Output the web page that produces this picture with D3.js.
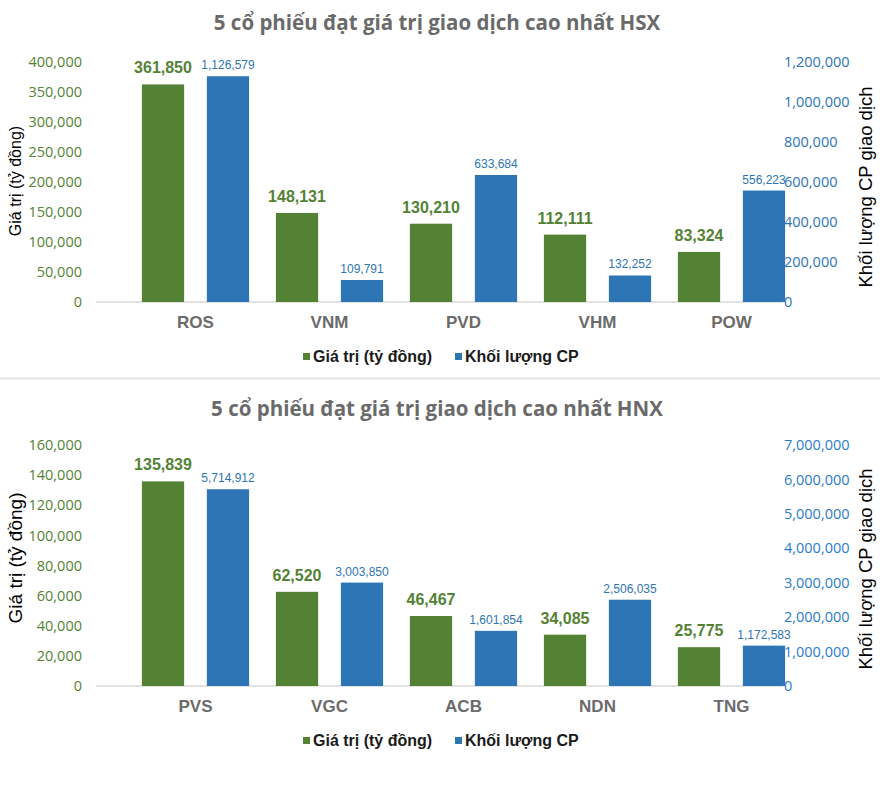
<!DOCTYPE html>
<html><head><meta charset="utf-8">
<script src="https://cdn.jsdelivr.net/npm/d3@7"></script>
<style>
html,body{margin:0;padding:0;background:#fff;}
svg{display:block;}
</style></head>
<body>
<svg id="chart" width="880" height="798"></svg>
<script>
// ---- data ----
const hsxTitle = "5 cổ phiếu đạt giá trị giao dịch cao nhất HSX";
const hsxCategories = ["ROS", "VNM", "PVD", "VHM", "POW"];
const hsxValue = [361850, 148131, 130210, 112111, 83324];
const hsxVolume = [1126579, 109791, 633684, 132252, 556223];
const hsxLeftTicks = [0, 50000, 100000, 150000, 200000, 250000, 300000, 350000, 400000];
const hsxRightTicks = [0, 200000, 400000, 600000, 800000, 1000000, 1200000];

const hnxTitle = "5 cổ phiếu đạt giá trị giao dịch cao nhất HNX";
const hnxCategories = ["PVS", "VGC", "ACB", "NDN", "TNG"];
const hnxValue = [135839, 62520, 46467, 34085, 25775];
const hnxVolume = [5714912, 3003850, 1601854, 2506035, 1172583];
const hnxLeftTicks = [0, 20000, 40000, 60000, 80000, 100000, 120000, 140000, 160000];
const hnxRightTicks = [0, 1000000, 2000000, 3000000, 4000000, 5000000, 6000000, 7000000];

const seriesNames = ["Giá trị (tỷ đồng)", "Khối lượng CP"];
const leftAxisTitle = "Giá trị (tỷ đồng)";
const rightAxisTitle = "Khối lượng CP giao dịch";

// ---- styling ----
const GREEN = "#548235", BLUE = "#2E75B6";
const fmt = d3.format(",");
const svg = d3.select("#chart");

svg.append("line").attr("x1", 0).attr("x2", 880).attr("y1", 378.5).attr("y2", 378.5)
  .attr("stroke", "#e4e4e4").attr("stroke-width", 2);

function drawChart(cfg) {
  const g = svg.append("g");
  const x0 = d3.scaleBand().domain(cfg.categories).range([128.5, 798.5]);
  const x1 = d3.scaleBand().domain(["v", "q"])
    .range([x0.bandwidth() * 0.1, x0.bandwidth() * 0.9]).paddingInner(0.35);
  const yL = d3.scaleLinear().domain([cfg.leftTicks[0], cfg.leftTicks[cfg.leftTicks.length - 1]])
    .range([cfg.yBottom, cfg.yTop]);
  const yR = d3.scaleLinear().domain([cfg.rightTicks[0], cfg.rightTicks[cfg.rightTicks.length - 1]])
    .range([cfg.yBottom, cfg.yTop]);

  // title
  g.append("text").attr("x", 437).attr("y", cfg.titleY).attr("text-anchor", "middle")
    .attr("font-family", "'Open Sans', sans-serif").attr("font-weight", 700)
    .attr("font-size", 20.5).attr("fill", "#6a6a6a").text(cfg.title);

  // left axis
  const la = g.append("g").attr("transform", "translate(82,0)")
    .call(d3.axisLeft(yL).tickValues(cfg.leftTicks).tickFormat(fmt).tickSize(0).tickPadding(0));
  la.select(".domain").remove();
  la.selectAll("text").attr("font-family", "'Open Sans', sans-serif").attr("font-size", 14.5)
    .attr("fill", GREEN);

  // right axis
  const ra = g.append("g").attr("transform", "translate(783,0)")
    .call(d3.axisRight(yR).tickValues(cfg.rightTicks).tickFormat(fmt).tickSize(0).tickPadding(1));
  ra.select(".domain").remove();
  ra.selectAll("text").attr("font-family", "'Open Sans', sans-serif").attr("font-size", 14.5)
    .attr("fill", cfg.rightColor);

  // baseline
  g.append("line").attr("x1", 96).attr("x2", 783).attr("y1", cfg.yBottom).attr("y2", cfg.yBottom)
    .attr("stroke", "#d9d9d9").attr("stroke-width", 1.5);

  // bars
  const rows = cfg.categories.map((c, i) => ({ c, v: cfg.value[i], q: cfg.volume[i] }));
  const grp = g.selectAll("g.cat").data(rows).join("g").attr("class", "cat")
    .attr("transform", d => `translate(${x0(d.c)},0)`);
  grp.append("rect").attr("x", x1("v")).attr("width", x1.bandwidth())
    .attr("y", d => yL(d.v)).attr("height", d => cfg.yBottom - yL(d.v)).attr("fill", GREEN);
  grp.append("rect").attr("x", x1("q")).attr("width", x1.bandwidth())
    .attr("y", d => yR(d.q)).attr("height", d => cfg.yBottom - yR(d.q)).attr("fill", BLUE);
  grp.append("text").attr("x", x1("v") + x1.bandwidth() / 2).attr("y", d => yL(d.v) - 11)
    .attr("text-anchor", "middle").attr("font-family", "'Liberation Sans Narrow', 'Arial Narrow', sans-serif")
    .attr("font-weight", 700).attr("font-size", 16).attr("fill", GREEN).text(d => fmt(d.v));
  grp.append("text").attr("x", x1("q") + x1.bandwidth() / 2).attr("y", d => yR(d.q) - 7)
    .attr("text-anchor", "middle").attr("font-family", "'Liberation Sans Narrow', 'Arial Narrow', sans-serif")
    .attr("font-size", 12).attr("fill", BLUE).text(d => fmt(d.q));

  // category labels
  grp.append("text").attr("x", x0.bandwidth() / 2).attr("y", cfg.yBottom + 26)
    .attr("text-anchor", "middle").attr("font-family", "'Liberation Sans Narrow', 'Arial Narrow', sans-serif")
    .attr("font-weight", 700).attr("font-size", 17).attr("fill", "#6b6b6b").text(d => d.c);

  // axis titles
  g.append("text").attr("transform", `translate(15,${cfg.leftTitleY}) rotate(-90)`)
    .attr("text-anchor", "middle").attr("dominant-baseline", "central")
    .attr("font-family", "'Liberation Sans', Arial, sans-serif").attr("font-size", cfg.leftTitleSize)
    .attr("fill", "#000").text(leftAxisTitle);
  g.append("text").attr("transform", `translate(865,${cfg.rightTitleY}) rotate(-90)`)
    .attr("text-anchor", "middle").attr("dominant-baseline", "central")
    .attr("font-family", "'Liberation Sans', Arial, sans-serif").attr("font-size", 18.5)
    .attr("fill", "#000").text(rightAxisTitle);

  // legend
  const lg = g.append("g");
  const items = [{ x: 303, color: GREEN, label: seriesNames[0] }, { x: 455, color: BLUE, label: seriesNames[1] }];
  items.forEach(it => {
    lg.append("rect").attr("x", it.x).attr("y", cfg.legendY - 4).attr("width", 7).attr("height", 7).attr("fill", it.color);
    lg.append("text").attr("x", it.x + 10).attr("y", cfg.legendY + 5)
      .attr("font-family", "'Liberation Sans', Arial, sans-serif").attr("font-weight", 700)
      .attr("font-size", 16).attr("fill", "#1a1a1a").text(it.label);
  });
}

drawChart({
  title: hsxTitle, titleY: 30, categories: hsxCategories, value: hsxValue, volume: hsxVolume,
  leftTicks: hsxLeftTicks, rightTicks: hsxRightTicks, yBottom: 302, yTop: 61.5,
  leftTitleY: 181, leftTitleSize: 16, rightTitleY: 187, legendY: 357, rightColor: BLUE
});
drawChart({
  title: hnxTitle, titleY: 416, categories: hnxCategories, value: hnxValue, volume: hnxVolume,
  leftTicks: hnxLeftTicks, rightTicks: hnxRightTicks, yBottom: 686, yTop: 445,
  leftTitleY: 558, leftTitleSize: 19, rightTitleY: 569, legendY: 741, rightColor: "#2A7CC8"
});
</script>
</body></html>
